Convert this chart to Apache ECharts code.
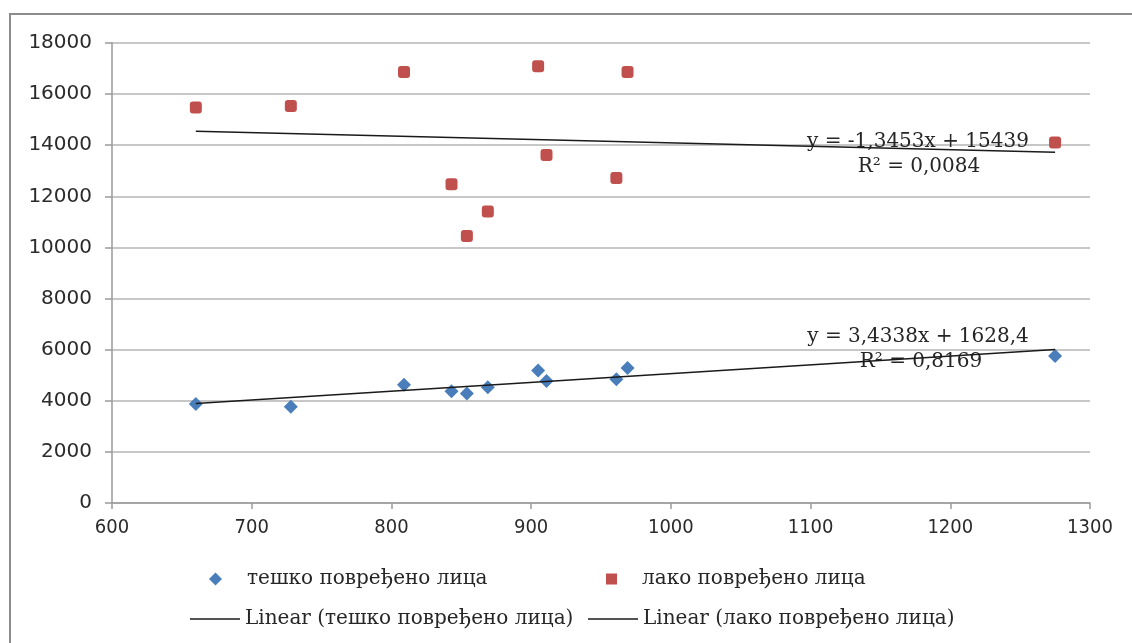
<!DOCTYPE html>
<html>
<head>
<meta charset="utf-8">
<script src="https://cdn.jsdelivr.net/npm/echarts@6/dist/echarts.min.js"></script>
<style>
  html, body { margin: 0; padding: 0; background: #ffffff; }
  #chart { width: 1132px; height: 643px; }
</style>
</head>
<body>
<div id="chart"></div>
<script>
// Number of injured persons against the x variable, with least-squares trend lines
const xValues = [660, 728, 809, 843, 854, 869, 905, 911, 961, 969, 1275];
const heavyInjured = [3870, 3770, 4630, 4370, 4280, 4530, 5180, 4770, 4840, 5280, 5750];
const lightInjured = [15480, 15530, 16870, 12470, 10450, 11410, 17090, 13620, 12720, 16870, 14110];

const seriesNames = ['тешко повређено лица', 'лако повређено лица'];
const trendNames = ['Linear (тешко повређено лица)', 'Linear (лако повређено лица)'];

// Trend line coefficients: y = slope * x + intercept, and R²
const trendSlope = [3.4338, -1.3453];
const trendIntercept = [1628.4, 15439];
const trendR2 = ['0,8169', '0,0084'];

const xTicks = [600, 700, 800, 900, 1000, 1100, 1200, 1300];
const yTicks = [0, 2000, 4000, 6000, 8000, 10000, 12000, 14000, 16000, 18000];

const serifFont = '"DejaVu Serif", "Liberation Serif", serif';
const fmt = v => String(v).replace('.', ',');
const eqText = i => 'y = ' + fmt(trendSlope[i]) + 'x + ' + fmt(trendIntercept[i]);

const xMin = Math.min(...xValues), xMax = Math.max(...xValues);
const trendData = i => [xMin, xMax].map(x => [x, trendSlope[i] * x + trendIntercept[i]]);

const chart = echarts.init(document.getElementById('chart'), null, { renderer: 'canvas' });

const legendText = { fontFamily: serifFont, fontSize: 20, color: '#262626' };

chart.setOption({
  animation: false,
  backgroundColor: '#ffffff',
  grid: { left: 112, right: 42, top: 43, bottom: 140, containLabel: false },
  xAxis: {
    type: 'value',
    min: xTicks[0],
    max: xTicks[xTicks.length - 1],
    interval: 100,
    splitLine: { show: false },
    axisLine: { show: true, lineStyle: { color: '#9a9a9a', width: 1.5 } },
    axisTick: { show: true, length: 6, lineStyle: { color: '#9a9a9a', width: 1.5 } },
    axisLabel: {
      margin: 15,
      color: '#2b2b2b',
      fontFamily: '"DejaVu Sans Condensed", "DejaVu Sans", sans-serif',
      fontSize: 20,
      formatter: v => String(v)
    }
  },
  yAxis: {
    type: 'value',
    min: yTicks[0],
    max: yTicks[yTicks.length - 1],
    interval: 2000,
    splitLine: { show: true, lineStyle: { color: '#b4b4b4', width: 1.5 } },
    axisLine: { show: true, lineStyle: { color: '#9a9a9a', width: 1.5 } },
    axisTick: { show: true, length: 7, lineStyle: { color: '#9a9a9a', width: 1.5 } },
    axisLabel: {
      margin: 20,
      color: '#2b2b2b',
      fontFamily: '"DejaVu Sans", sans-serif',
      fontSize: 20,
      formatter: v => String(v)
    }
  },
  legend: [
    {
      left: 209, top: 569, padding: 0, selectedMode: false,
      data: [seriesNames[0]], icon: 'diamond', itemWidth: 13, itemHeight: 13,
      textStyle: Object.assign({ padding: [0, 0, 0, 20] }, legendText)
    },
    {
      left: 606, top: 569, padding: 0, selectedMode: false,
      data: [seriesNames[1]], icon: 'rect', itemWidth: 11, itemHeight: 11,
      textStyle: Object.assign({ padding: [0, 0, 0, 20] }, legendText)
    },
    {
      left: 190, top: 609, padding: 0, selectedMode: false,
      data: [trendNames[0]], icon: 'rect', itemWidth: 50, itemHeight: 1.5,
      textStyle: legendText
    },
    {
      left: 588, top: 609, padding: 0, selectedMode: false,
      data: [trendNames[1]], icon: 'rect', itemWidth: 50, itemHeight: 1.5,
      textStyle: legendText
    }
  ],
  series: [
    {
      name: seriesNames[0],
      type: 'scatter',
      symbol: 'diamond',
      symbolSize: 14,
      itemStyle: { color: '#4a7ebb', opacity: 1 },
      data: xValues.map((x, i) => [x, heavyInjured[i]]),
      z: 3
    },
    {
      name: seriesNames[1],
      type: 'scatter',
      symbol: 'roundRect',
      symbolSize: 12,
      itemStyle: { color: '#c0504d', opacity: 1 },
      data: xValues.map((x, i) => [x, lightInjured[i]]),
      z: 3
    },
    {
      name: trendNames[0],
      type: 'line',
      symbol: 'none',
      color: '#1a1a1a',
      lineStyle: { color: '#1a1a1a', width: 1.5 },
      data: trendData(0),
      z: 4
    },
    {
      name: trendNames[1],
      type: 'line',
      symbol: 'none',
      color: '#1a1a1a',
      lineStyle: { color: '#1a1a1a', width: 1.5 },
      data: trendData(1),
      z: 4
    }
  ],
  graphic: [
    {
      type: 'rect',
      shape: { x: 10, y: 14, width: 1200, height: 700 },
      style: { fill: 'none', stroke: '#8c8c8c', lineWidth: 2 },
      silent: true
    },
    {
      type: 'text', x: 918, y: 142, z: 2,
      style: { text: eqText(1), fill: '#262626', font: '20px ' + serifFont, textAlign: 'center', textVerticalAlign: 'middle' }
    },
    {
      type: 'text', x: 919, y: 167, z: 2,
      style: { text: 'R² = ' + trendR2[1], fill: '#262626', font: '20px ' + serifFont, textAlign: 'center', textVerticalAlign: 'middle' }
    },
    {
      type: 'text', x: 918, y: 337, z: 2,
      style: { text: eqText(0), fill: '#262626', font: '20px ' + serifFont, textAlign: 'center', textVerticalAlign: 'middle' }
    },
    {
      type: 'text', x: 921, y: 362, z: 2,
      style: { text: 'R² = ' + trendR2[0], fill: '#262626', font: '20px ' + serifFont, textAlign: 'center', textVerticalAlign: 'middle' }
    }
  ]
});
</script>
</body>
</html>
